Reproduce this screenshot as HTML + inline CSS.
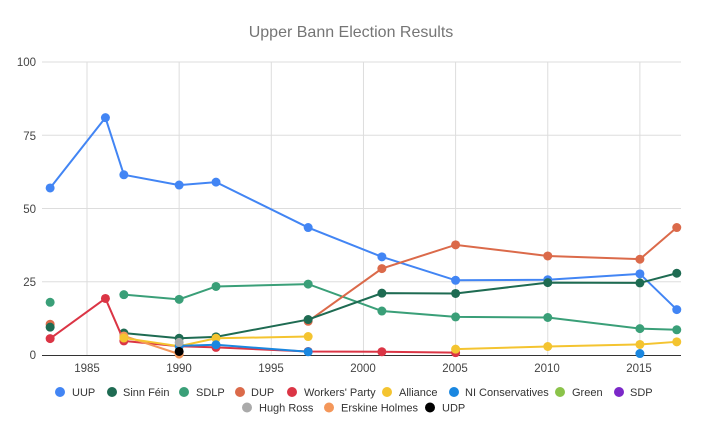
<!DOCTYPE html>
<html><head><meta charset="utf-8"><style>
body{margin:0;background:#fff;font-family:"Liberation Sans",Arial,sans-serif;}
svg text{font-family:"Liberation Sans",Arial,sans-serif;}
</style></head><body>
<svg id="c" width="703" height="435" xmlns="http://www.w3.org/2000/svg">
<rect width="703" height="435" fill="#fff"/>
<text x="351" y="37" text-anchor="middle" font-size="16" fill="#757575">Upper Bann Election Results</text>
<g id="grid"></g>
<g id="series"></g>
<g font-size="11.5" fill="#444">
<text x="36" y="66" text-anchor="end">100</text>
<text x="36" y="140" text-anchor="end">75</text>
<text x="36" y="213" text-anchor="end">50</text>
<text x="36" y="286" text-anchor="end">25</text>
<text x="36" y="359" text-anchor="end">0</text>
<text x="87" y="372" text-anchor="middle">1985</text>
<text x="179" y="372" text-anchor="middle">1990</text>
<text x="271" y="372" text-anchor="middle">1995</text>
<text x="363" y="372" text-anchor="middle">2000</text>
<text x="455" y="372" text-anchor="middle">2005</text>
<text x="547" y="372" text-anchor="middle">2010</text>
<text x="639" y="372" text-anchor="middle">2015</text>
</g>
<g font-size="11" fill="#333" id="leg">
<circle cx="60" cy="392" r="5" fill="#4285f4"/><text x="72" y="396">UUP</text>
<circle cx="112" cy="392" r="5" fill="#1e6b52"/><text x="123" y="396">Sinn Féin</text>
<circle cx="184" cy="392" r="5" fill="#3a9f78"/><text x="196" y="396">SDLP</text>
<circle cx="240" cy="392" r="5" fill="#db6a4a"/><text x="251" y="396">DUP</text>
<circle cx="292" cy="392" r="5" fill="#db3545"/><text x="304" y="396">Workers' Party</text>
<circle cx="387" cy="392" r="5" fill="#f4c430"/><text x="399" y="396">Alliance</text>
<circle cx="454" cy="392" r="5" fill="#1a87e0"/><text x="465" y="396">NI Conservatives</text>
<circle cx="560" cy="392" r="5" fill="#8bc34a"/><text x="572" y="396">Green</text>
<circle cx="619" cy="392" r="5" fill="#7b28c8"/><text x="630" y="396">SDP</text>
<circle cx="247" cy="407.5" r="5" fill="#aaaaaa"/><text x="259" y="411.5">Hugh Ross</text>
<circle cx="329" cy="407.5" r="5" fill="#f4975a"/><text x="341" y="411.5">Erskine Holmes</text>
<circle cx="430" cy="407.5" r="5" fill="#000"/><text x="442" y="411.5">UDP</text>
</g>
</svg>
<script>
var NS="http://www.w3.org/2000/svg";
function X(y){return 87+(y-1985)*18.43;}
function Y(v){return 355-v*2.93;}
var g=document.getElementById('grid'),s=document.getElementById('series');
function el(p,t,a){var e=document.createElementNS(NS,t);for(var k in a)e.setAttribute(k,a[k]);p.appendChild(e);return e;}
[1985,1990,1995,2000,2005,2010,2015].forEach(function(y){el(g,'line',{x1:X(y),x2:X(y),y1:62,y2:355,stroke:'#ddd','stroke-width':1});});
[25,50,75,100].forEach(function(v){el(g,'line',{x1:42,x2:681,y1:Y(v),y2:Y(v),stroke:'#ddd','stroke-width':1});});
el(g,'line',{x1:42,x2:681,y1:355.5,y2:355.5,stroke:'#333','stroke-width':1});
var S=[
['#4285f4',[[[1983,57],[1986,81],[1987,61.5],[1990,58],[1992,59],[1997,43.5],[2001,33.5],[2005,25.5],[2010,25.7],[2015,27.7],[2017,15.5]]]],
['#3a9f78',[[[1983,18]],[[1987,20.6],[1990,19],[1992,23.4],[1997,24.2],[2001,15],[2005,13],[2010,12.8],[2015,9],[2017,8.6]]]],
['#db6a4a',[[[1983,10.5]],[[1997,11.5],[2001,29.5],[2005,37.6],[2010,33.8],[2015,32.7],[2017,43.5]]]],
['#1e6b52',[[[1983,9.5]],[[1987,7.5],[1990,5.7],[1992,6.2],[1997,12.1],[2001,21.1],[2005,21],[2010,24.7],[2015,24.6],[2017,27.9]]]],
['#db3545',[[[1983,5.6],[1986,19.3],[1987,4.8],[1990,3],[1992,2.6],[1997,1.2],[2001,1.1],[2005,0.8]]]],
['#f4975a',[[[1987,6.5],[1990,0.3]]]],
['#f4c430',[[[1987,5.8],[1990,3],[1992,5.7],[1997,6.3]],[[2005,2],[2010,2.9],[2015,3.6],[2017,4.5]]]],
['#1a87e0',[[[1990,3.1],[1992,3.5],[1997,1.1]],[[2015,0.5]]]],
['#aaaaaa',[[[1990,4.3]]]],
['#000',[[[1990,1.2]]]]
];
S.forEach(function(sr){sr[1].forEach(function(seg){
 if(seg.length>1)el(s,'polyline',{points:seg.map(function(p){return X(p[0])+','+Y(p[1]);}).join(' '),fill:'none',stroke:sr[0],'stroke-width':2});
 seg.forEach(function(p){el(s,'circle',{cx:X(p[0]),cy:Y(p[1]),r:4.5,fill:sr[0]});});
});});
</script>
</body></html>
